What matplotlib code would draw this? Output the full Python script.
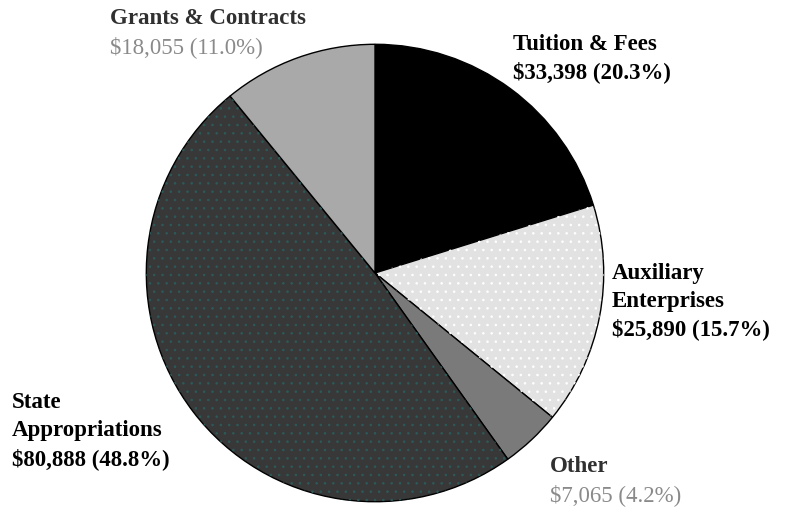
import matplotlib.pyplot as plt
from matplotlib.patches import Wedge

plt.rcParams['font.family'] = ['Liberation Serif', 'DejaVu Serif']
plt.rcParams['hatch.linewidth'] = 0.6

# Slices, clockwise from 12 o'clock
names = ["Tuition & Fees", "Auxiliary\nEnterprises", "Other", "State\nAppropriations", "Grants & Contracts"]
amounts = [33398, 25890, 7065, 80888, 18055]
pct_labels = ["20.3%", "15.7%", "4.2%", "48.8%", "11.0%"]
colors = ["#000000", "#e2e2e2", "#7a7a7a", "#383838", "#a9a9a9"]

fig = plt.figure(figsize=(7.88, 5.10), dpi=100)
ax = fig.add_axes([144 / 788, 5 / 510, 462 / 788, 462 / 510])

wedges, _ = ax.pie(amounts, colors=colors, startangle=90, counterclock=False,
                   wedgeprops=dict(edgecolor="black", linewidth=1.0))

# dotted texture on two slices
dots = {1: "#ffffff", 3: "#2c5a5a"}
for i, c in dots.items():
    w = wedges[i]
    ax.add_patch(Wedge(w.center, w.r, w.theta1, w.theta2, facecolor="none",
                       edgecolor=c, hatch="..", linewidth=0))
ax.set_xlim(-1.01, 1.01)
ax.set_ylim(-1.01, 1.01)
ax.axis("off")

# label layout: left x and centre y of first line, figure pixels
spots = [(513, 44), (612, 273), (550, 467), (12, 403), (110, 19)]
dark = [True, True, False, True, False]
step = 28

for name, amt, pct, (x, y), is_dark in zip(names, amounts, pct_labels, spots, dark):
    lines = name.split("\n") + [f"${amt:,} ({pct})"]
    for k, line in enumerate(lines):
        is_value = k == len(lines) - 1
        if is_dark:
            kw = dict(fontweight="bold", color="black")
        elif is_value:
            kw = dict(color="#8a8a8a")
        else:
            kw = dict(fontweight="bold", color="#303030")
        fig.text(x / 788, 1 - (y + k * step) / 510, line, ha="left", va="center",
                 fontsize=16.5, **kw)

fig.savefig("out.png", dpi=100)
